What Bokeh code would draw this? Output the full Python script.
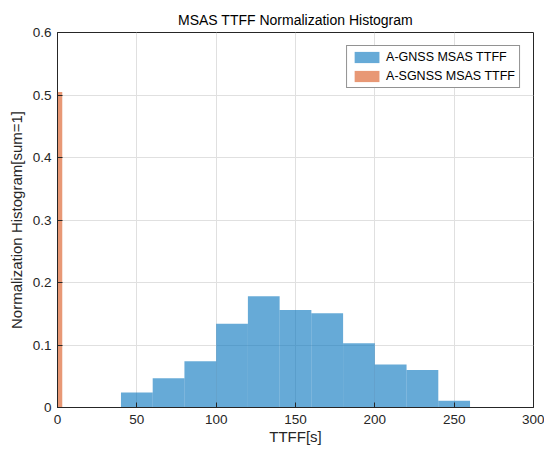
from bokeh.plotting import figure
from bokeh.models import Range1d, FixedTicker, Legend, LegendItem
from bokeh.embed import file_html
from bokeh.resources import INLINE

# A-GNSS MSAS TTFF histogram (bin edges in seconds, normalized heights)
gnss_left = [40, 60, 80, 100, 120, 140, 160, 180, 200, 220, 240]
gnss_right = [60, 80, 100, 120, 140, 160, 180, 200, 220, 240, 260]
gnss_values = [0.024, 0.047, 0.074, 0.134, 0.178, 0.156, 0.151, 0.103, 0.069, 0.060, 0.011]

# A-SGNSS MSAS TTFF histogram
sgnss_left = [0]
sgnss_right = [3]
sgnss_values = [0.505]

x_ticks = [0, 50, 100, 150, 200, 250, 300]
y_ticks = [0, 0.1, 0.2, 0.3, 0.4, 0.5, 0.6]
y_tick_labels = {0: "0", 0.1: "0.1", 0.2: "0.2", 0.3: "0.3", 0.4: "0.4", 0.5: "0.5", 0.6: "0.6"}

FONT = "Liberation Sans"
DARK = "#262626"

p = figure(width=544, height=454, output_backend="svg", toolbar_location=None,
           x_range=Range1d(0, 300), y_range=Range1d(0, 0.6),
           min_border_left=57, min_border_right=11, min_border_top=32, min_border_bottom=47,
           title="MSAS TTFF Normalization Histogram")

p.title.align = "center"
p.title.text_font = FONT
p.title.text_font_size = "14px"
p.title.text_font_style = "normal"
p.title.text_color = "#000000"
p.title.offset = 0

g1 = p.quad(left=gnss_left, right=gnss_right, top=gnss_values, bottom=0,
            fill_color="#0072BD", fill_alpha=0.6, line_color=None)
g2 = p.quad(left=sgnss_left, right=sgnss_right, top=sgnss_values, bottom=0,
            fill_color="#D95319", fill_alpha=0.6, line_color=None)

p.outline_line_color = DARK
p.outline_line_width = 1
p.outline_line_alpha = 1

for ax in (p.xaxis[0], p.yaxis[0]):
    ax.axis_line_color = DARK
    ax.major_tick_line_color = DARK
    ax.major_tick_in = 5
    ax.major_tick_out = 0
    ax.minor_tick_line_color = None
    ax.major_label_text_font = FONT
    ax.major_label_text_font_size = "13.5px"
    ax.major_label_text_color = DARK
    ax.axis_label_text_font = FONT
    ax.axis_label_text_font_style = "normal"
    ax.axis_label_text_color = DARK

p.xaxis[0].ticker = FixedTicker(ticks=x_ticks)
p.yaxis[0].ticker = FixedTicker(ticks=y_ticks)
p.yaxis[0].major_label_overrides = y_tick_labels
p.xaxis[0].axis_label = "TTFF[s]"
p.yaxis[0].axis_label = "Normalization Histogram[sum=1]"
p.xaxis[0].axis_label_text_font_size = "15px"
p.yaxis[0].axis_label_text_font_size = "15px"
p.xaxis[0].major_label_standoff = 7
p.yaxis[0].major_label_standoff = 6
p.xaxis[0].axis_label_standoff = 1
p.yaxis[0].axis_label_standoff = 5

p.xgrid.ticker = FixedTicker(ticks=x_ticks)
p.ygrid.ticker = FixedTicker(ticks=y_ticks)
p.grid.grid_line_color = "#e0e0e0"
p.grid.grid_line_width = 1

legend = Legend(items=[LegendItem(label="A-GNSS MSAS TTFF", renderers=[g1]),
                       LegendItem(label="A-SGNSS MSAS TTFF", renderers=[g2])],
                location="top_right", margin=13)
legend.border_line_color = DARK
legend.border_line_width = 1
legend.background_fill_color = "white"
legend.background_fill_alpha = 1
legend.label_text_font = FONT
legend.label_text_font_size = "12.5px"
legend.label_text_color = "#000000"
legend.glyph_width = 31
legend.glyph_height = 14
legend.label_height = 14
legend.label_standoff = 4
legend.spacing = 5
legend.padding = 4
p.add_layout(legend)

open("out.html", "w").write(file_html(p, INLINE))
